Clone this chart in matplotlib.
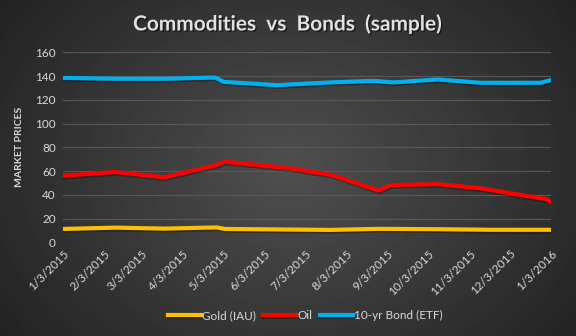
import numpy as np
import pandas as pd
import matplotlib
matplotlib.use("Agg")
import matplotlib.pyplot as plt
import matplotlib.patheffects as pe

plt.rcParams['font.family'] = ['Lato', 'DejaVu Sans']

# datos
tick_dates = ["2015-01-03", "2015-02-03", "2015-03-03", "2015-04-03", "2015-05-03",
              "2015-06-03", "2015-07-03", "2015-08-03", "2015-09-03", "2015-10-03",
              "2015-11-03", "2015-12-03", "2016-01-03"]
tick_labels = ["1/3/2015", "2/3/2015", "3/3/2015", "4/3/2015", "5/3/2015", "6/3/2015",
               "7/3/2015", "8/3/2015", "9/3/2015", "10/3/2015", "11/3/2015",
               "12/3/2015", "1/3/2016"]

gold_dates = ["2015-01-03", "2015-02-11", "2015-03-20", "2015-04-28", "2015-05-04",
              "2015-07-22", "2015-08-27", "2015-10-10", "2015-11-19", "2016-01-03"]
gold_vals = [11.2, 12.3, 11.5, 12.5, 11.2, 10.4, 11.3, 11.0, 10.5, 10.5]

oil_dates = ["2015-01-03", "2015-02-11", "2015-03-20", "2015-04-28", "2015-05-04",
             "2015-06-22", "2015-07-23", "2015-08-27", "2015-09-05", "2015-10-10",
             "2015-11-11", "2015-12-31", "2016-01-03"]
oil_vals = [56.1, 59.2, 54.7, 65.1, 67.9, 62.3, 56.7, 43.5, 48.2, 49.0, 45.5, 36.2, 33.7]

bond_dates = ["2015-01-03", "2015-02-11", "2015-03-20", "2015-04-27", "2015-05-03",
              "2015-06-12", "2015-07-22", "2015-08-23", "2015-09-07", "2015-10-10",
              "2015-11-11", "2015-12-26", "2016-01-03"]
bond_vals = [138.5, 137.8, 137.8, 138.8, 135.2, 132.4, 134.7, 136.0, 134.7, 137.2,
             134.4, 134.4, 136.7]

series = [
    ("Gold (IAU)", gold_dates, gold_vals, "#FFC000"),
    ("Oil", oil_dates, oil_vals, "#FF0000"),
    ("10-yr Bond (ETF)", bond_dates, bond_vals, "#00B0F0"),
]

txt = "#D9D9D9"
fig = plt.figure(figsize=(5.76, 3.36), dpi=100)

# fondo con degradado radial
bg = fig.add_axes([0, 0, 1, 1], zorder=-10)
yy, xx = np.mgrid[0:336, 0:576]
r = np.sqrt(((xx - 290) / 330.0) ** 2 + ((yy - 170) / 260.0) ** 2)
shade = np.clip(0.31 - 0.16 * r, 0.14, 0.31)
bg.imshow(shade, cmap="gray", vmin=0, vmax=1, aspect="auto", extent=[0, 1, 0, 1])
bg.axis("off")

ax = fig.add_axes([0.109, 0.279, 0.848, 0.565])
ax.patch.set_alpha(0)

for name, d, v, c in series:
    ax.plot(pd.to_datetime(d), v, color=c, lw=3, label=name, solid_joinstyle="round",
            path_effects=[pe.SimpleLineShadow(offset=(0.8, -1.2), alpha=0.3, shadow_color="black"),
                          pe.Normal()])

ax.set_ylim(0, 160)
ax.set_yticks(range(0, 161, 20))
ax.set_xlim(pd.Timestamp(tick_dates[0]), pd.Timestamp(tick_dates[-1]))
ax.set_xticks(pd.to_datetime(tick_dates))
ax.set_xticklabels(tick_labels, rotation=45, ha="right", rotation_mode="anchor")
ax.grid(axis="y", color="#595959", lw=0.8)
ax.set_axisbelow(True)
for s in ax.spines.values():
    s.set_visible(False)
ax.tick_params(length=0, colors=txt, labelsize=8.5, pad=5)
ax.tick_params(axis="x", pad=4)
ax.set_ylabel("MARKET PRICES", color=txt, fontsize=7.5, fontweight="bold", labelpad=8)

fig.text(0.5, 0.928, "Commodities  vs  Bonds  (sample)", ha="center", va="center",
         color="#E2E2E2", fontsize=15, fontweight="bold",
         path_effects=[pe.withSimplePatchShadow(offset=(1, -1), alpha=0.5, shadow_rgbFace="black")])

leg = fig.legend(loc="center", bbox_to_anchor=(0.53, 0.06), ncol=3, frameon=False,
                 fontsize=8.5, labelcolor=txt, handlelength=2.8, handletextpad=0.1,
                 columnspacing=0.6)

fig.savefig("out.png", dpi=100)
